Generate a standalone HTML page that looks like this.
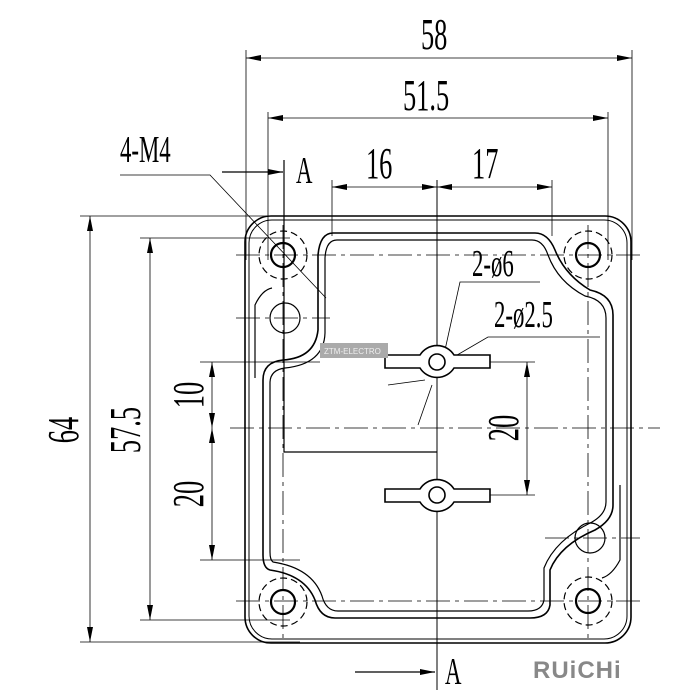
<!DOCTYPE html>
<html><head><style>body{margin:0;background:#fff}svg{display:block}</style></head><body>
<svg width="700" height="700" viewBox="0 0 700 700" xmlns="http://www.w3.org/2000/svg" font-family="Liberation Sans, sans-serif">
<defs>
<marker id="a" viewBox="0 0 10 4" refX="10" refY="2" markerWidth="18" markerHeight="6" markerUnits="userSpaceOnUse" orient="auto-start-reverse"><path d="M0 0L10 2L0 4z" fill="#000"/></marker>
</defs>
<g stroke="#000" stroke-width="0.8" fill="none">
<line x1="246" y1="50" x2="246" y2="260"/>
<line x1="632" y1="50" x2="632" y2="260"/>
<line x1="268" y1="112" x2="268" y2="260"/>
<line x1="608" y1="112" x2="608" y2="260"/>
<line x1="332" y1="180" x2="332" y2="236"/>
<line x1="552" y1="180" x2="552" y2="236"/>
<line x1="80" y1="216" x2="300" y2="216"/>
<line x1="140" y1="238" x2="290" y2="238"/>
<line x1="140" y1="620" x2="290" y2="620"/>
<line x1="80" y1="642" x2="300" y2="642"/>
<line x1="200" y1="362" x2="320" y2="362"/>
<line x1="200" y1="560" x2="300" y2="560"/>
<line x1="460" y1="362" x2="535" y2="362"/>
<line x1="460" y1="495" x2="535" y2="495"/>
<line x1="246" y1="58" x2="632" y2="58" marker-start="url(#a)" marker-end="url(#a)"/>
<line x1="268" y1="118" x2="608" y2="118" marker-start="url(#a)" marker-end="url(#a)"/>
<line x1="332" y1="187" x2="437" y2="187" marker-start="url(#a)" marker-end="url(#a)"/>
<line x1="437" y1="187" x2="552" y2="187" marker-start="url(#a)" marker-end="url(#a)"/>
<line x1="90" y1="216" x2="90" y2="642" marker-start="url(#a)" marker-end="url(#a)"/>
<line x1="150" y1="238" x2="150" y2="620" marker-start="url(#a)" marker-end="url(#a)"/>
<line x1="212" y1="362" x2="212" y2="428" marker-start="url(#a)" marker-end="url(#a)"/>
<line x1="212" y1="428" x2="212" y2="560" marker-start="url(#a)" marker-end="url(#a)"/>
<line x1="527" y1="362" x2="527" y2="495" marker-start="url(#a)" marker-end="url(#a)"/>
<line x1="222" y1="172" x2="283" y2="172" marker-end="url(#a)" stroke-width="1.2"/>
<line x1="355" y1="672" x2="435" y2="672" marker-end="url(#a)" stroke-width="1.2"/>
<polyline points="120,175 210,175 326,298"/>
<polyline points="540,282 460,282 445,350"/>
<polyline points="600,337 488,337 452,358"/>
<line x1="425" y1="380" x2="388" y2="385"/>
<line x1="432" y1="385" x2="418" y2="425"/>
<line x1="437" y1="180" x2="437" y2="690" stroke-width="1"/>
<line x1="230" y1="428" x2="660" y2="428" stroke-dasharray="24 5 4 5"/>
<line x1="236" y1="255" x2="640" y2="255" stroke-dasharray="24 5 4 5"/>
<line x1="236" y1="601" x2="640" y2="601" stroke-dasharray="24 5 4 5"/>
<line x1="236" y1="318" x2="330" y2="318" stroke-dasharray="24 5 4 5"/>
<line x1="545" y1="538" x2="640" y2="538" stroke-dasharray="24 5 4 5"/>
<line x1="283" y1="225" x2="283" y2="640" stroke-dasharray="24 5 4 5"/>
<line x1="588" y1="225" x2="588" y2="640" stroke-dasharray="24 5 4 5"/>
<polyline points="284,160 284,452 437,452" stroke-width="1.2"/>
</g>
<g stroke="#000" fill="none" stroke-width="1.6">
<rect x="245" y="216" width="386" height="427" rx="26"/>
<rect x="249" y="220" width="378" height="419" rx="23" stroke-width="1"/>
<path d="M333 233 H535 Q548 233 555 250 Q565 275 590 290 Q613 295 613 315 V505 Q613 520 595 530 Q560 545 550 570 V605 Q548 618 530 618 H335 Q320 618 315 600 Q305 575 270 570 Q263 568 263 555 V380 Q263 362 283 360 Q315 358 318 330 V255 Q320 233 333 233Z"/>
<path d="M337 240 H532 Q543 240 548 255 Q558 282 585 296 Q606 300 606 318 V502 Q606 514 592 522 Q555 540 544 568 V600 Q542 611 528 611 H338 Q326 611 322 596 Q312 568 273 562 Q270 560 270 552 V383 Q270 370 285 368 Q324 364 325 333 V258 Q326 240 337 240Z" stroke-width="1.2"/>
<path d="M255 378 V305 Q262 290 272 288 M620 485 V560 Q612 575 602 578" stroke-width="1.2"/>
<circle cx="283" cy="255" r="12" stroke-width="2.2"/><circle cx="588" cy="255" r="12" stroke-width="2.2"/>
<circle cx="283" cy="602" r="12" stroke-width="2.2"/><circle cx="588" cy="601" r="12" stroke-width="2.2"/>
<g stroke-dasharray="7 4" stroke-width="1.2"><circle cx="283" cy="255" r="24"/><circle cx="588" cy="255" r="24"/><circle cx="283" cy="602" r="24"/><circle cx="588" cy="601" r="24"/></g>
<circle cx="285" cy="318" r="15" stroke-width="1.2"/><circle cx="590" cy="538" r="15" stroke-width="1.2"/>
<path d="M385 355 H420 A20 20 0 0 1 454 355 H490 V368 H454 A20 20 0 0 1 420 368 H385Z" fill="#fff"/>
<circle cx="437" cy="362" r="8"/>
<path d="M385 489 H420 A20 20 0 0 1 454 489 H490 V502 H454 A20 20 0 0 1 420 502 H385Z" fill="#fff"/>
<circle cx="437" cy="495" r="8"/>
</g>
<rect x="320" y="343" width="68" height="15" fill="#aaa"/>
<text x="324" y="354" font-size="8" fill="#eee">ZTM-ELECTRO</text>
<g font-family="Liberation Serif, serif" font-size="44" fill="#000">
<text x="421" y="49" transform="translate(421 0) scale(0.6 1) translate(-421 0)">58</text>
<text x="403" y="110" transform="translate(403 0) scale(0.6 1) translate(-403 0)">51.5</text>
<text x="366" y="178" transform="translate(366 0) scale(0.6 1) translate(-366 0)">16</text>
<text x="472" y="178" transform="translate(472 0) scale(0.6 1) translate(-472 0)">17</text>
<text x="120" y="162" font-size="38" transform="translate(120 0) scale(0.6 1) translate(-120 0)">4-M4</text>
<text x="296" y="183" font-size="38" transform="translate(296 0) scale(0.6 1) translate(-296 0)">A</text>
<text x="445" y="684" font-size="38" transform="translate(445 0) scale(0.6 1) translate(-445 0)">A</text>
<text x="472" y="276" font-size="38" transform="translate(472 0) scale(0.6 1) translate(-472 0)">2-ø6</text>
<text x="494" y="327" font-size="38" transform="translate(494 0) scale(0.6 1) translate(-494 0)">2-ø2.5</text>
<g transform="translate(78 430) rotate(-90) scale(0.6 1)"><text x="0" y="0" text-anchor="middle">64</text></g>
<g transform="translate(140 430) rotate(-90) scale(0.6 1)"><text x="0" y="0" text-anchor="middle">57.5</text></g>
<g transform="translate(203 395) rotate(-90) scale(0.6 1)"><text x="0" y="0" text-anchor="middle">10</text></g>
<g transform="translate(203 494) rotate(-90) scale(0.6 1)"><text x="0" y="0" text-anchor="middle">20</text></g>
<g transform="translate(518 428) rotate(-90) scale(0.6 1)"><text x="0" y="0" text-anchor="middle">20</text></g>
</g>
<text x="533" y="678" font-size="24" font-weight="bold" fill="#888" letter-spacing="1">RUiCHi</text>
</svg>
</body></html>
